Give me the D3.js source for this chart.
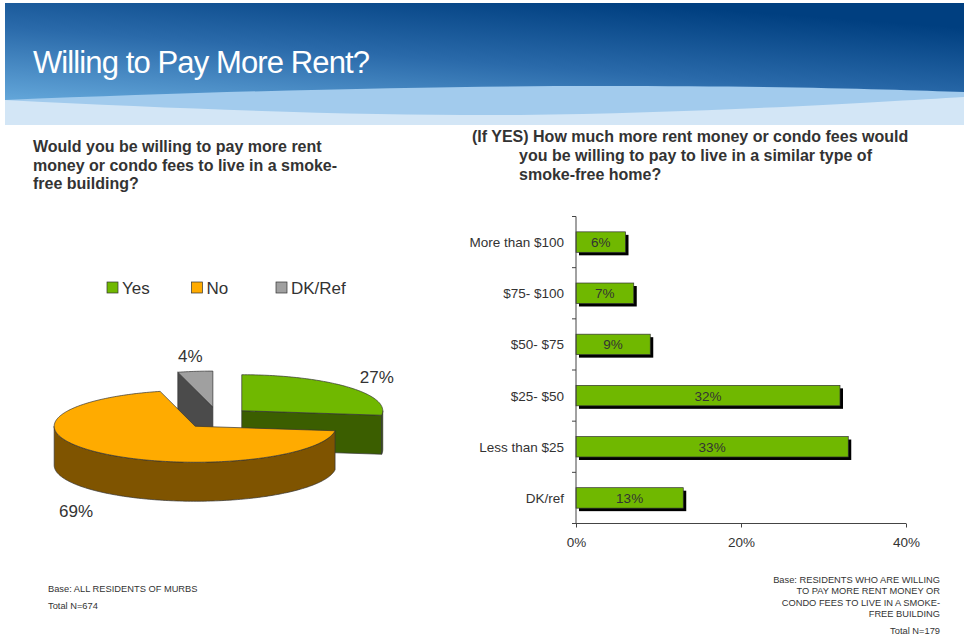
<!DOCTYPE html>
<html>
<head>
<meta charset="utf-8">
<script src="https://cdn.jsdelivr.net/npm/d3@7"></script>
<style>
  body { margin: 0; background: #fff; }
  svg text { font-family: "Liberation Sans", Arial, sans-serif; }
</style>
</head>
<body>
<script>
// Data
var pieLabels = ["Yes", "No", "DK/Ref"];
var pieValues = [27, 69, 4];
var barCategories = ["More than $100", "$75- $100", "$50- $75", "$25- $50", "Less than $25", "DK/ref"];
var barValues = [6, 7, 9, 32, 33, 13];
var xTicks = [0, 20, 40];

var width = 964, height = 642;
var svg = d3.select("body").append("svg")
  .attr("width", width)
  .attr("height", height);

var defs = svg.append("defs");
var grad = defs.append("linearGradient")
  .attr("id", "hdr")
  .attr("x1", "0").attr("y1", "1").attr("x2", "0.65").attr("y2", "0");
grad.append("stop").attr("offset", "0").attr("stop-color", "#6db1e2");
grad.append("stop").attr("offset", "0.55").attr("stop-color", "#2a6aaa");
grad.append("stop").attr("offset", "1").attr("stop-color", "#003f80");

// Header band
svg.append("rect")
  .attr("x", 5).attr("y", 3).attr("width", width - 5).attr("height", 110)
  .attr("fill", "url(#hdr)");
svg.append("path")
  .attr("d", "M5,100 C250,90 450,86 600,86 C800,86 900,90 964,92 L964,125 L5,125 Z")
  .attr("fill", "#a2cbed");
svg.append("path")
  .attr("d", "M5,100 C200,110 380,116 520,115 C700,113 880,102 964,97 L964,125 L5,125 Z")
  .attr("fill", "#d3e6f6");
svg.append("text")
  .attr("x", 33).attr("y", 73)
  .attr("fill", "#fff")
  .style("font-size", "31px")
  .attr("textLength", 337)
  .text("Willing to Pay More Rent?");

// Question texts
var q1 = ["Would you be willing to pay more rent", "money or condo fees to live in a smoke-", "free building?"];
svg.append("g").selectAll("text").data(q1).enter().append("text")
  .attr("x", 33).attr("y", function(d, i) { return 152 + i * 18.5; })
  .attr("fill", "#333").style("font-size", "16px").style("font-weight", "bold")
  .text(function(d) { return d; });

var q2 = ["(If YES) How much more rent money or condo fees would", "you be willing to pay to live in a similar type of", "smoke-free home?"];
svg.append("g").selectAll("text").data(q2).enter().append("text")
  .attr("x", function(d, i) { return i === 0 ? 472 : 519; })
  .attr("y", function(d, i) { return 142 + i * 19; })
  .attr("fill", "#333").style("font-size", "16px").style("font-weight", "bold")
  .text(function(d) { return d; });

// ---------- 3D pie ----------
var pieTop = { Yes: "#70b800", No: "#ffab00", "DK/Ref": "#a0a0a0" };
var pieSide = { Yes: "#3b5e00", No: "#7f5400", "DK/Ref": "#4b4b4b" };
var cx = 217, cy = 418, rx = 141, ry = 36, depth = 39, ex = 33, ey = 11;

var pie = d3.pie().sort(null).value(function(d) { return d; });
var arcs = pie(pieValues).map(function(a, i) {
  var mid = (a.startAngle + a.endAngle) / 2;
  a.label = pieLabels[i];
  a.mid = mid;
  a.ox = cx + ex * Math.sin(mid);
  a.oy = cy - ey * Math.cos(mid);
  return a;
});

function pt(a, ang, dy) {
  return [a.ox + rx * Math.sin(ang), a.oy - ry * Math.cos(ang) + (dy || 0)];
}
function rimPoints(a, s, e, dy) {
  var n = Math.max(2, Math.ceil((e - s) / 0.02));
  return d3.range(n + 1).map(function(k) { return pt(a, s + (e - s) * k / n, dy); });
}
var line = d3.line();

var pieG = svg.append("g");
// back slices first
arcs.slice().sort(function(a, b) { return Math.cos(b.mid) - Math.cos(a.mid); }).forEach(function(a) {
  var g = pieG.append("g");
  var apex = [a.ox, a.oy];
  // cut faces visible from the front
  [[a.startAngle, a.startAngle - Math.PI / 2], [a.endAngle, a.endAngle + Math.PI / 2]].forEach(function(c) {
    if (-Math.cos(c[1]) > 0.05) {
      var p = pt(a, c[0]);
      g.append("path")
        .attr("d", line([apex, p, [p[0], p[1] + depth], [apex[0], apex[1] + depth]]) + "Z")
        .attr("fill", pieSide[a.label]).attr("stroke", "#333").attr("stroke-width", 0.7);
    }
  });
  // front rim
  var s = Math.max(a.startAngle, Math.PI / 2), e = Math.min(a.endAngle, 3 * Math.PI / 2);
  if (e > s) {
    var topPts = rimPoints(a, s, e, 0);
    var botPts = rimPoints(a, s, e, depth).reverse();
    g.append("path")
      .attr("d", line(topPts.concat(botPts)) + "Z")
      .attr("fill", pieSide[a.label]).attr("stroke", "#333").attr("stroke-width", 0.7);
  }
  // top face
  g.append("path")
    .attr("d", line([apex].concat(rimPoints(a, a.startAngle, a.endAngle, 0))) + "Z")
    .attr("fill", pieTop[a.label]).attr("stroke", "#333").attr("stroke-width", 0.7);
});

// pie labels
pieG.selectAll("text.plabel").data(arcs).enter().append("text")
  .attr("class", "plabel")
  .attr("x", function(d) { return cx + 213 * Math.sin(d.mid); })
  .attr("y", function(d) { return cy - 62 * Math.cos(d.mid) + (Math.cos(d.mid) < 0 ? depth + 7 : 0) + 6; })
  .attr("text-anchor", "middle")
  .attr("fill", "#333").style("font-size", "17px")
  .text(function(d) { return d.value + "%"; });

// legend
var legendX = d3.scalePoint().domain(pieLabels).range([107, 276]);
var lg = svg.append("g").selectAll("g").data(pieLabels).enter().append("g")
  .attr("transform", function(d) { return "translate(" + legendX(d) + ",282)"; });
lg.append("rect").attr("width", 11).attr("height", 11)
  .attr("fill", function(d) { return pieTop[d]; }).attr("stroke", "#333").attr("stroke-width", 0.7);
lg.append("text").attr("x", 15).attr("y", 12)
  .attr("fill", "#333").style("font-size", "17px")
  .text(function(d) { return d; });

// ---------- bar chart ----------
var xScale = d3.scaleLinear().domain([0, 40]).range([576, 906]);
var yScale = d3.scaleBand().domain(barCategories).range([216.5, 523.5]).paddingInner(0.6).paddingOuter(0.3);
var yAxisScale = d3.scaleBand().domain(barCategories).range([216.5, 523.5]);

var barG = svg.append("g");
// shadows
barG.selectAll("rect.shadow").data(barValues).enter().append("rect")
  .attr("class", "shadow")
  .attr("x", xScale(0) + 3)
  .attr("y", function(d, i) { return yScale(barCategories[i]) + 3; })
  .attr("width", function(d) { return xScale(d) - xScale(0); })
  .attr("height", yScale.bandwidth())
  .attr("fill", "#000");
barG.selectAll("rect.bar").data(barValues).enter().append("rect")
  .attr("class", "bar")
  .attr("x", xScale(0))
  .attr("y", function(d, i) { return yScale(barCategories[i]); })
  .attr("width", function(d) { return xScale(d) - xScale(0); })
  .attr("height", yScale.bandwidth())
  .attr("fill", "#70b800").attr("stroke", "#333").attr("stroke-width", 0.7);
barG.selectAll("text.val").data(barValues).enter().append("text")
  .attr("class", "val")
  .attr("x", function(d) { return (xScale(0) + xScale(d)) / 2; })
  .attr("y", function(d, i) { return yScale(barCategories[i]) + yScale.bandwidth() / 2 + 5; })
  .attr("text-anchor", "middle")
  .attr("fill", "#333").style("font-size", "13.5px")
  .text(function(d) { return d + "%"; });

// y axis: line with tick marks at band boundaries
var yAx = svg.append("g").attr("stroke", "#444").attr("stroke-width", 1);
yAx.append("line").attr("x1", 576).attr("x2", 576).attr("y1", 216.5).attr("y2", 523.5);
var bounds = barCategories.map(function(c) { return yAxisScale(c); }).concat([523.5]);
yAx.selectAll("line.t").data(bounds).enter().append("line")
  .attr("class", "t")
  .attr("x1", 572).attr("x2", 576)
  .attr("y1", function(d) { return d; }).attr("y2", function(d) { return d; });
svg.append("g").selectAll("text").data(barCategories).enter().append("text")
  .attr("x", 564)
  .attr("y", function(d) { return yAxisScale(d) + yAxisScale.bandwidth() / 2 + 5; })
  .attr("text-anchor", "end")
  .attr("fill", "#333").style("font-size", "13.5px")
  .text(function(d) { return d; });

// x axis
var xAxis = d3.axisBottom(xScale).tickValues(xTicks).tickSize(4).tickFormat(function(d) { return d + "%"; });
var xg = svg.append("g").attr("transform", "translate(0,523.5)").call(xAxis);
xg.select(".domain").attr("stroke", "#444").attr("d", "M576,0H906");
xg.selectAll(".tick line").attr("stroke", "#444");
xg.selectAll(".tick text").attr("fill", "#333").style("font-size", "13.5px").attr("y", 14)
  .style("font-family", "'Liberation Sans', Arial, sans-serif");

// footnotes
var fnLeft = ["Base: ALL RESIDENTS OF MURBS", "Total N=674"];
svg.append("g").selectAll("text").data(fnLeft).enter().append("text")
  .attr("x", 48).attr("y", function(d, i) { return 592 + i * 17; })
  .attr("fill", "#333").style("font-size", "9.3px")
  .text(function(d) { return d; });
var fnRight = ["Base: RESIDENTS WHO ARE WILLING", "TO PAY MORE RENT MONEY OR", "CONDO FEES TO LIVE IN A SMOKE-", "FREE BUILDING"];
svg.append("g").selectAll("text").data(fnRight).enter().append("text")
  .attr("x", 940).attr("y", function(d, i) { return 583 + i * 11.3; })
  .attr("text-anchor", "end")
  .attr("fill", "#333").style("font-size", "9.3px")
  .text(function(d) { return d; });
svg.append("text").attr("x", 940).attr("y", 634).attr("text-anchor", "end")
  .attr("fill", "#333").style("font-size", "9.3px").text("Total N=179");
</script>
</body>
</html>
